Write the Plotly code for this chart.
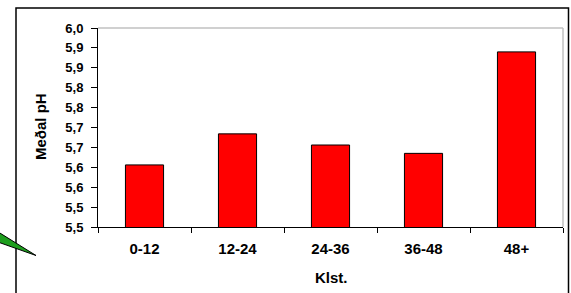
import plotly.graph_objects as go

categories = ["0-12", "12-24", "24-36", "36-48", "48+"]
ph_values = [5.656, 5.734, 5.706, 5.685, 5.940]
y_tick_vals = [5.50, 5.55, 5.60, 5.65, 5.70, 5.75, 5.80, 5.85, 5.90, 5.95, 6.00]
y_tick_text = ["5,5", "5,5", "5,6", "5,6", "5,7", "5,7", "5,8", "5,8", "5,9", "5,9", "6,0"]
x_title = "Klst."
y_title = "Meðal pH"

W, H = 571, 293
L, R, T, B = 98, 8, 28, 66
pw, ph = W - L - R, H - T - B

def px(x):
    return (x - L) / pw

def py(y):
    return (H - B - y) / ph

FONT = "Liberation Sans, Arial, sans-serif"

fig = go.Figure(go.Bar(
    x=categories, y=ph_values,
    marker=dict(color="#FF0000", line=dict(color="#000000", width=1)),
    width=0.41,
))

fig.update_layout(
    width=W, height=H,
    margin=dict(l=L, r=R, t=T, b=B, pad=0),
    paper_bgcolor="white", plot_bgcolor="white",
    showlegend=False,
    font=dict(family=FONT, color="black"),
    xaxis=dict(
        showgrid=False, showline=True, linecolor="#000000", linewidth=1,
        ticks="outside", ticklen=5, tickcolor="#000000", tickson="boundaries",
        tickfont=dict(family=FONT, size=15, color="black", weight="bold"),
        ticklabelstandoff=8, automargin=False,
    ),
    yaxis=dict(
        range=[5.5, 6.0], showgrid=False, showline=True, linecolor="#000000", linewidth=1,
        ticks="outside", ticklen=6, tickcolor="#000000",
        tickvals=y_tick_vals, ticktext=y_tick_text,
        tickfont=dict(family=FONT, size=13, color="black", weight="bold"),
        ticklabelstandoff=5, zeroline=False, automargin=False,
    ),
    shapes=[
        dict(type="line", xref="paper", yref="paper", x0=0, x1=1, y0=1, y1=1,
             line=dict(color="#C0C0C0", width=1.5)),
        dict(type="line", xref="paper", yref="paper", x0=1, x1=1, y0=0, y1=1,
             line=dict(color="#C0C0C0", width=1.5)),
        dict(type="rect", xref="paper", yref="paper",
             x0=px(16), x1=px(568.5), y0=py(300), y1=py(8),
             line=dict(color="#000000", width=1.5)),
        dict(type="path", xref="paper", yref="paper",
             path=f"M {px(-5)} {py(230)} L {px(36)} {py(255.5)} L {px(-5)} {py(241)} Z",
             fillcolor="#1E9E1E", line=dict(color="#000000", width=1)),
    ],
    annotations=[
        dict(text=f"<b>{x_title}</b>", xref="paper", yref="paper",
             x=px(331), y=py(277), showarrow=False,
             font=dict(family=FONT, size=15, color="black"),
             xanchor="center", yanchor="middle"),
        dict(text=f"<b>{y_title}</b>", xref="paper", yref="paper",
             x=px(40), y=py(127), showarrow=False, textangle=-90,
             font=dict(family=FONT, size=15, color="black"),
             xanchor="center", yanchor="middle"),
    ],
)

fig.write_html(
    "out.html",
    config={"displayModeBar": False},
    post_script="document.body.style.margin='0';document.body.style.overflow='hidden';",
)
